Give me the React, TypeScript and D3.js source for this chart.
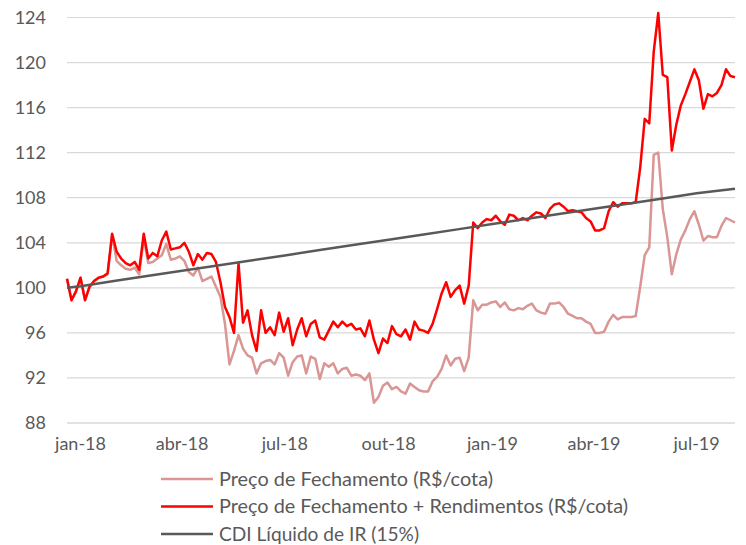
import * as d3 from "d3";
import { useEffect, useRef } from "react";

// one sample every 4 days, from 20-dez-2017
const startDate = new Date(2017, 11, 20);
const stepDays = 4;

const precoRend = [
  100.8, 98.9, 99.7, 100.9, 98.9, 100.1, 100.6, 100.9, 101.0, 101.3,
  104.8, 103.2, 102.6, 102.2, 102.0, 102.3, 101.6, 104.8, 102.6, 103.1,
  102.8, 104.2, 105.0, 103.4, 103.5, 103.6, 104.0, 103.2, 102.0, 103.0,
  102.5, 103.1, 103.0, 102.3, 100.5, 98.3, 97.4, 96.0, 102.2, 96.9,
  98.0, 95.8, 94.4, 98.0, 96.0, 96.5, 95.8, 97.8, 96.1, 97.3,
  94.9, 96.3, 97.3, 95.7, 96.8, 97.1, 95.6, 95.4, 96.2, 97.0,
  96.5, 97.0, 96.6, 96.8, 96.3, 96.4, 95.7, 97.1, 95.4, 94.2,
  95.5, 95.1, 96.6, 95.9, 95.7, 96.3, 95.4, 97.0, 96.3, 96.2,
  96.0, 96.8, 98.1, 99.5, 100.5, 99.2, 99.8, 100.2, 98.6, 100.2,
  105.8, 105.3, 105.8, 106.1, 106.0, 106.4, 105.9, 105.6, 106.5, 106.4,
  106.0, 106.2, 106.0, 106.4, 106.7, 106.6, 106.2, 107.0, 107.4, 107.5,
  107.2, 106.8, 106.9, 106.8, 106.7, 106.2, 105.9, 105.1, 105.1, 105.3,
  106.8, 107.6, 107.2, 107.5, 107.5, 107.5, 107.6, 110.7, 115.0, 114.6,
  121.0, 124.4, 118.9, 118.7, 112.2, 114.5, 116.2, 117.2, 118.3, 119.4,
  118.4, 115.9, 117.2, 117.0, 117.3, 118.0, 119.4, 118.8, 118.7,
];

const precoFech = [
  100.8, 98.9, 99.7, 100.9, 98.9, 100.1, 100.6, 100.9, 101.0, 101.2,
  104.7, 102.4, 102.0, 101.7, 101.6, 101.8, 101.2, 104.4, 102.2, 102.3,
  102.6, 102.9, 103.9, 102.5, 102.6, 102.8, 102.4, 101.4, 101.1, 101.8,
  100.6, 100.8, 101.0, 100.1, 99.2, 96.8, 93.2, 94.4, 95.8, 94.6,
  94.0, 93.8, 92.4, 93.3, 93.5, 93.6, 93.2, 94.2, 93.8, 92.2,
  93.4, 93.9, 94.0, 92.4, 93.9, 93.7, 91.9, 93.3, 93.0, 93.3,
  92.4, 92.8, 92.9, 92.2, 92.3, 92.2, 91.8, 92.4, 89.8, 90.3,
  91.3, 91.6, 91.0, 91.2, 90.8, 90.6, 91.5, 91.2, 90.9, 90.8,
  90.8, 91.7, 92.1, 92.8, 94.0, 93.1, 93.7, 93.8, 92.6, 93.8,
  98.9, 98.0, 98.5, 98.5, 98.7, 98.8, 98.3, 98.7, 98.1, 98.0,
  98.2, 98.1, 98.4, 98.6, 98.0, 97.8, 97.7, 98.6, 98.6, 98.7,
  98.3, 97.7, 97.5, 97.3, 97.3, 97.0, 96.8, 96.0, 96.0, 96.1,
  97.0, 97.6, 97.2, 97.4, 97.4, 97.4, 97.5, 100.1, 102.9, 103.6,
  111.8, 112.0, 107.0, 104.5, 101.2, 103.0, 104.3, 105.1, 106.1, 106.8,
  105.6, 104.2, 104.6, 104.5, 104.5, 105.5, 106.2, 106.0, 105.8,
];

const cdiDates = [
  "2017-12-20", "2018-01-01", "2018-02-01", "2018-03-01", "2018-04-01", "2018-05-01",
  "2018-06-01", "2018-07-01", "2018-08-01", "2018-09-01", "2018-10-01", "2018-11-01",
  "2018-12-01", "2019-01-01", "2019-02-01", "2019-03-01", "2019-04-01", "2019-05-01",
  "2019-06-01", "2019-07-01", "2019-08-04",
];
const cdiValues = [
  100.0, 100.15, 100.62, 101.05, 101.52, 101.97, 102.43, 102.88, 103.35, 103.82, 104.27,
  104.74, 105.19, 105.66, 106.13, 106.55, 107.02, 107.47, 107.94, 108.39, 108.8,
];

const xTickDates = ["2018-01-01", "2018-04-01", "2018-07-01", "2018-10-01", "2019-01-01", "2019-04-01", "2019-07-01"];
const xTickLabels = ["jan-18", "abr-18", "jul-18", "out-18", "jan-19", "abr-19", "jul-19"];
const yTicks = [88, 92, 96, 100, 104, 108, 112, 116, 120, 124];

const legendItems = [
  { label: "Preço de Fechamento (R$/cota)", color: "#D99694", w: 274 },
  { label: "Preço de Fechamento + Rendimentos (R$/cota)", color: "#FF0000", w: 409 },
  { label: "CDI Líquido de IR (15%)", color: "#595959", w: 200 },
];

const parseDay = d3.timeParse("%Y-%m-%d");

const App = () => {
  const ref = useRef(null);

  useEffect(() => {
    const width = 746;
    const height = 545;
    const margin = { top: 17.5, left: 67, right: 11, bottom: 122 };
    const font = "Lato, 'Open Sans', sans-serif";

    const svg = d3.select(ref.current);
    svg.selectAll("*").remove();

    const dates = precoRend.map((_, i) => d3.timeDay.offset(startDate, i * stepDays));

    const x = d3.scaleTime()
      .domain([dates[0], dates[dates.length - 1]])
      .range([margin.left, width - margin.right]);
    const y = d3.scaleLinear()
      .domain([88, 124])
      .range([height - margin.bottom, margin.top]);

    // grid
    svg.append("g")
      .selectAll("line")
      .data(yTicks)
      .join("line")
      .attr("x1", margin.left)
      .attr("x2", width - margin.right)
      .attr("y1", d => y(d))
      .attr("y2", d => y(d))
      .attr("stroke", "#D9D9D9")
      .attr("stroke-width", d => (d === 88 ? 1.6 : 1.2));

    svg.append("g")
      .selectAll("text")
      .data(yTicks)
      .join("text")
      .attr("x", 46)
      .attr("y", d => y(d))
      .attr("dy", "0.35em")
      .attr("text-anchor", "end")
      .style("font-family", font)
      .style("font-size", "18px")
      .style("fill", "#595959")
      .text(d => d);

    svg.append("g")
      .selectAll("text")
      .data(xTickDates)
      .join("text")
      .attr("x", d => x(parseDay(d)))
      .attr("y", 450)
      .attr("text-anchor", "middle")
      .style("font-family", font)
      .style("font-size", "18px")
      .style("fill", "#595959")
      .text((d, i) => xTickLabels[i]);

    const line = d3.line()
      .x(d => x(d[0]))
      .y(d => y(d[1]));

    const series = [
      { pts: dates.map((d, i) => [d, precoFech[i]]), color: "#D99694" },
      { pts: dates.map((d, i) => [d, precoRend[i]]), color: "#FF0000" },
      { pts: cdiDates.map((d, i) => [parseDay(d), cdiValues[i]]), color: "#595959" },
    ];

    series.forEach(s => {
      svg.append("path")
        .datum(s.pts)
        .attr("d", line)
        .attr("fill", "none")
        .attr("stroke", s.color)
        .attr("stroke-width", 2.5)
        .attr("stroke-linejoin", "round");
    });

    // legend
    const lg = svg.append("g");
    legendItems.forEach((item, i) => {
      const ly = 479 + i * 27.5;
      lg.append("line")
        .attr("x1", 161)
        .attr("x2", 213)
        .attr("y1", ly)
        .attr("y2", ly)
        .attr("stroke", item.color)
        .attr("stroke-width", 2.5);
      lg.append("text")
        .attr("x", 219)
        .attr("y", ly)
        .attr("dy", "0.35em")
        .attr("textLength", item.w)
        .attr("lengthAdjust", "spacingAndGlyphs")
        .style("font-family", font)
        .style("font-size", "19px")
        .style("fill", "#595959")
        .text(item.label);
    });
  }, []);

  return (
    <svg
      ref={ref}
      width={746}
      height={545}
      style={{ position: "absolute", left: 0, top: 0, background: "#fff" }}
    ></svg>
  );
};

export default App;
